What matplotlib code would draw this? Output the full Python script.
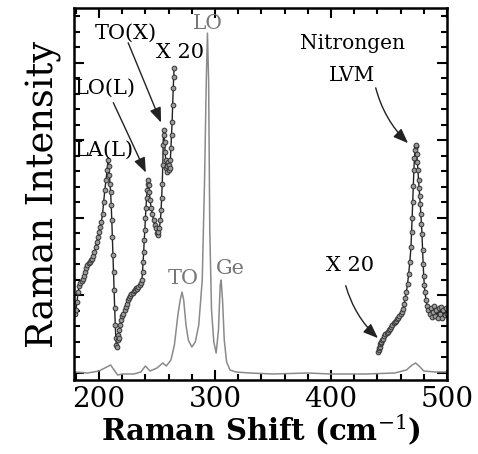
import numpy as np
import matplotlib
matplotlib.use("Agg")
import matplotlib.pyplot as plt
from matplotlib.patches import FancyArrowPatch

plt.rcParams['font.family'] = ['DejaVu Serif']
plt.rcParams['mathtext.fontset'] = 'dejavuserif'

# Main Raman spectrum (x1)
main_x = [178.5, 190, 200, 205, 210, 213, 216, 220, 230, 236, 240, 244, 250, 255, 258,
          262, 265, 268, 270, 271.6, 273, 275, 277, 280, 283, 286, 289, 291, 292.5, 293.5,
          294.5, 295.5, 297, 299, 301, 303, 304.5, 305.3, 306.5, 308, 310, 313, 318, 330,
          350, 380, 400, 430, 455, 465, 470, 473, 476, 480, 490, 500]
main_y = [8, 7, 9, 12, 15, 10, 5, 6, 6, 8, 14, 9, 12, 17, 14,
          20, 35, 65, 80, 88, 80, 55, 40, 33, 38, 55, 100, 200, 300, 347,
          300, 150, 70, 38, 27, 50, 95, 100, 80, 40, 18, 10, 8, 7,
          6, 7, 6, 6, 7, 10, 15, 17, 14, 9, 8, 8]

# Low-frequency part, magnified x20
low_x = [179.4, 180, 181, 182, 183, 184, 185, 186, 187, 188, 189, 190, 191, 192, 193,
         194, 195, 196, 197, 198, 199, 200, 201, 202, 203, 204, 205, 206, 207, 207.8,
         208.5, 209, 209.5, 210, 210.5, 211, 211.5, 212, 212.5, 213, 213.5, 214, 214.5,
         215, 215.5, 216, 216.5, 217, 217.5, 218, 219, 220, 221, 222, 223, 224, 225,
         226, 227, 228, 229, 230, 231, 232, 233, 234, 235, 236, 237, 237.5, 238, 238.5,
         239, 239.5, 240, 240.5, 241, 241.5, 242, 242.5, 243, 243.5, 244, 245, 246, 247,
         248, 249, 250, 250.5, 251, 252, 253, 253.5, 254, 254.5, 255, 255.3, 255.6, 256,
         256.5, 257, 257.5, 258, 258.5, 259, 259.5, 260, 260.5, 261, 261.5, 262, 262.5,
         263, 263.5, 264, 264.4, 264.7]
low_y = [66, 70, 78, 88, 94, 97, 99, 101, 104, 108, 112, 115, 117, 118, 120,
         121, 124, 128, 133, 138, 143, 148, 153, 158, 166, 178, 190, 200, 210, 220,
         214, 205, 196, 188, 175, 160, 143, 125, 108, 90, 72, 55, 42,
         35, 33, 40, 45, 42, 50, 55, 60, 64, 66, 70, 73, 76, 80,
         82, 84, 86, 87, 89, 90, 92, 91, 93, 95, 97, 100, 108, 118, 128,
         140, 150, 162, 172, 182, 190, 196, 200, 195, 188, 180, 172, 166, 160,
         155, 152, 147, 145, 148, 152, 160, 170, 182, 196, 215, 235, 250, 245,
         238, 228, 220, 212, 208, 214, 218, 215, 210, 212, 220, 232, 245,
         258, 275, 292, 303, 312]

# Nitrogen LVM region, magnified x20
lvm_x = [440.6, 441, 441.5, 442, 442.5, 443, 443.5, 444, 445, 446, 447, 448, 449, 450,
         451, 452, 453, 454, 455, 456, 457, 458, 459, 460, 461, 462, 463, 464, 465, 466,
         467, 468, 469, 469.5, 470, 470.5, 471, 471.5, 472, 472.5, 473, 473.5, 474,
         474.5, 475, 475.5, 476, 476.5, 477, 477.5, 478, 478.5, 479, 479.5, 480, 480.5,
         481, 482, 483, 484, 485, 486, 487, 488, 489, 490, 491, 492, 493, 494, 495, 496,
         497, 498, 499, 500]
lvm_y = [28, 30, 32, 33, 36, 37, 38, 40, 41, 44, 46, 47, 48, 50,
         51, 53, 55, 57, 58, 59, 61, 62, 64, 66, 68, 71, 76, 82, 88, 96,
         106, 118, 133, 148, 162, 178, 194, 210, 222, 230, 234, 235, 226,
         218, 210, 200, 192, 184, 176, 166, 156, 146, 130, 116, 104, 95,
         88, 80, 74, 70, 66, 72, 63, 68, 74, 64, 70, 62, 72, 66, 73, 62,
         70, 65, 72, 66]

fig = plt.figure(figsize=(4.78, 4.54), dpi=100)
ax = fig.add_axes([0.155, 0.163, 0.78, 0.819])

ax.plot(main_x, main_y, color='#8a8a8a', lw=1.1)
mk = dict(color='#222222', lw=1.0, marker='o', ms=3.4,
          markerfacecolor='#9a9a9a', markeredgecolor='#333333', markeredgewidth=0.7)
ax.plot(low_x, low_y, **mk)
ax.plot(lvm_x, lvm_y, **mk)

ax.set_xlim(178.5, 500)
ax.set_ylim(0, 372)

ax.set_xticks([200, 300, 400, 500])
ax.set_xticks(np.arange(180, 501, 20), minor=True)
ax.set_yticks(np.arange(85 - 77.5, 372, 77.5))
ax.set_yticks(np.arange(85 - 77.5, 372, 15.5), minor=True)
ax.set_yticklabels([])
ax.tick_params(which='both', direction='in', top=True, right=True, width=1.5)
ax.tick_params(which='major', length=7, labelsize=20, pad=4)
ax.tick_params(which='minor', length=4)
for s in ax.spines.values():
    s.set_linewidth(1.8)

ax.set_xlabel('Raman Shift (cm$^{-1}$)', fontsize=21, fontweight='bold', labelpad=0)
ax.set_ylabel('Raman Intensity', fontsize=26.5, labelpad=5)

# Labels
gray = '#777777'
ax.text(294, 357, 'LO', color=gray, fontsize=14.5, ha='center', va='center')
ax.text(272.5, 102, 'TO', color=gray, fontsize=15, ha='center', va='center')
ax.text(313, 112, 'Ge', color=gray, fontsize=15, ha='center', va='center')

ax.text(223.3, 347, 'TO(X)', fontsize=15, ha='center', va='center')
ax.text(270, 328, 'X 20', fontsize=15, ha='center', va='center')
ax.text(179.3, 292, 'LO(L)', fontsize=15, ha='left', va='center')
ax.text(179.3, 230, 'LA(L)', fontsize=15, ha='left', va='center')
ax.text(418.2, 337, 'Nitrongen', fontsize=14.5, ha='center', va='center')
ax.text(418.2, 305, 'LVM', fontsize=14.5, ha='center', va='center')
ax.text(416.4, 115, 'X 20', fontsize=15, ha='center', va='center')

def arrow(p0, p1, rad=0.0):
    a = FancyArrowPatch(p0, p1, arrowstyle='-|>,head_length=9,head_width=3.5',
                        connectionstyle=f'arc3,rad={rad}', lw=1.0,
                        color='#222222', facecolor='#999999', mutation_scale=1)
    ax.add_patch(a)

arrow((224.2, 340), (254.4, 255))
arrow((211.3, 280), (241.4, 205))
arrow((438, 295), (468.2, 235), rad=0.15)
arrow((412.1, 97), (442.3, 40), rad=0.15)

fig.savefig('out.png', dpi=100)
